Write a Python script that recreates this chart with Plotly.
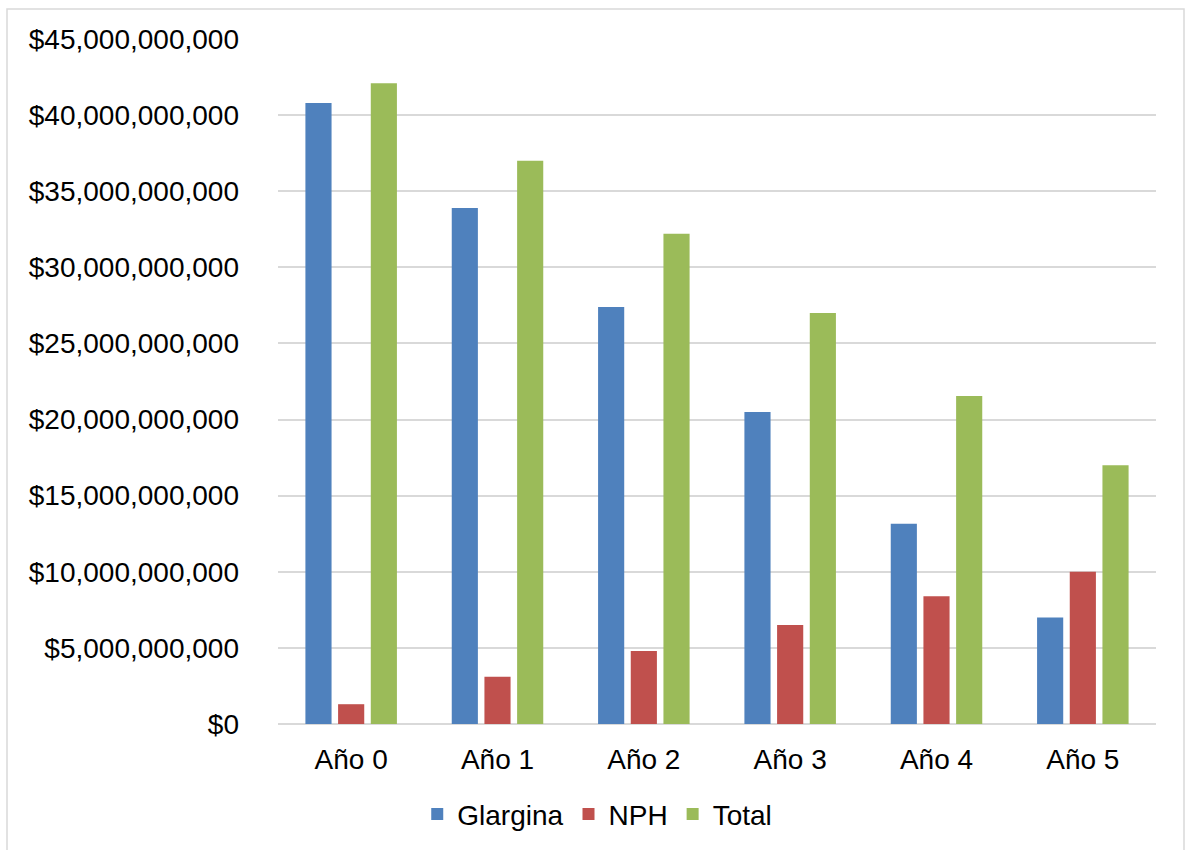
import plotly.graph_objects as go

# Annual cost per insulin, in pesos
years = ["Año 0", "Año 1", "Año 2", "Año 3", "Año 4", "Año 5"]
glargina = [40.8e9, 33.9e9, 27.4e9, 20.5e9, 13.15e9, 7.0e9]
nph = [1.3e9, 3.1e9, 4.8e9, 6.5e9, 8.4e9, 10.0e9]
total = [42.1e9, 37.0e9, 32.2e9, 27.0e9, 21.55e9, 17.0e9]

tick_vals = [i * 5e9 for i in range(10)]
tick_text = ["$0"] + ["${:,}".format(int(v)) for v in tick_vals[1:]]

W, H = 1185, 850
ML, MR, MT, MB = 278, 29, 39, 126
FONT = "Liberation Sans, Arial, sans-serif"
FS = 28

fig = go.Figure()
for name, vals, color in [
    ("Glargina", glargina, "#4F81BD"),
    ("NPH", nph, "#C0504D"),
    ("Total", total, "#9BBB59"),
]:
    fig.add_trace(go.Bar(x=years, y=vals, name=name, marker_color=color,
                         marker_line_width=0))

pw = W - ML - MR
ph = H - MT - MB
# light frame around the whole chart
fig.add_shape(type="rect", xref="paper", yref="paper",
              x0=(7 - ML) / pw, x1=(1184 - ML) / pw,
              y0=(H - MB - 860) / ph, y1=(H - MB - 9) / ph,
              line=dict(color="#D9D9D9", width=1.5), fillcolor="rgba(0,0,0,0)",
              layer="below")

fig.update_layout(
    width=W, height=H,
    margin=dict(l=ML, r=MR, t=MT, b=MB),
    paper_bgcolor="white", plot_bgcolor="white",
    font=dict(family=FONT, size=FS, color="#000000"),
    barmode="group", bargap=0.33, bargroupgap=0.2,
    showlegend=True,
    legend=dict(orientation="h", xref="container", x=0.504, xanchor="center",
                yref="container", y=0.042, yanchor="middle",
                font=dict(size=FS), itemwidth=30, tracegroupgap=0),
    xaxis=dict(showgrid=False, showline=False, ticks="", ticklabelstandoff=16,
               tickfont=dict(size=FS)),
    yaxis=dict(range=[0, 45e9], tickvals=tick_vals, ticktext=tick_text,
               showgrid=True, gridcolor="#D9D9D9", gridwidth=1.5,
               zeroline=True, zerolinecolor="#D9D9D9", zerolinewidth=1.5,
               showline=False, ticks="", ticklabelstandoff=38,
               tickfont=dict(size=FS)),
)

fig.write_html("out.html")
